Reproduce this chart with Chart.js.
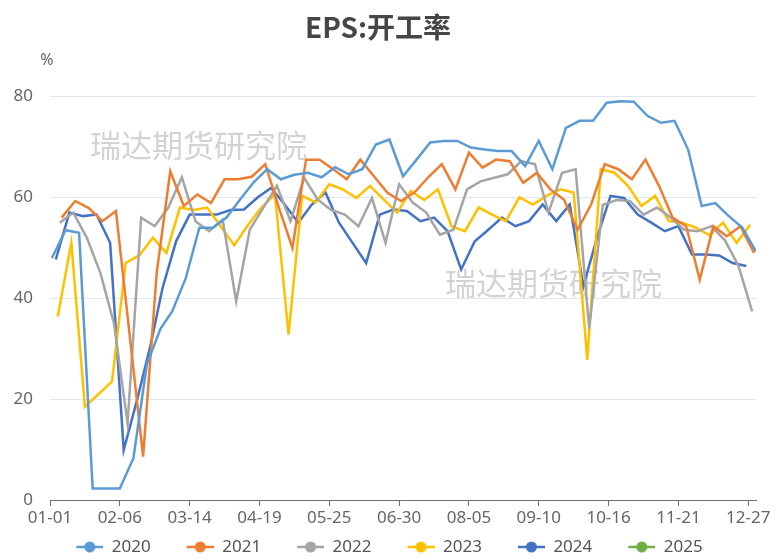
<!DOCTYPE html>
<html>
<head>
<meta charset="utf-8">
<script src="https://cdn.jsdelivr.net/npm/chart.js@4.4.1/dist/chart.umd.min.js"></script>
<style>
  html, body { margin: 0; padding: 0; background: #fff; }
  #wrap { width: 779px; height: 559px; }
</style>
</head>
<body>
<div id="wrap"><canvas id="eps"></canvas></div>
<script>
'use strict';
// weekly EPS operating rate (%), one value per Thursday from the first date
const years = ['2020', '2021', '2022', '2023', '2024', '2025'];
const firstDates = ['2020-01-02', '2021-01-07', '2022-01-06', '2023-01-05', '2024-01-04', '2025-01-02'];
const v2020 = [48, 53.5, 53, 2.3, 2.3, 2.3, 8.3, 27, 34, 37.4, 44, 54, 54, 56, 59.6, 63, 65.6, 63.6, 64.5, 64.9,
  64, 66, 64.6, 65.6, 70.5, 71.5, 64.2, 67.5, 70.9, 71.2, 71.2, 69.9, 69.5, 69.2, 69.2, 66.2, 71.2, 65.6, 73.8, 75.2,
  75.2, 78.8, 79.1, 79, 76.2, 74.8, 75.2, 69.5, 58.3, 58.9, 56.3, 54, 49.3];
const v2021 = [56, 59.3, 57.9, 55.3, 57.3, 33, 8.6, 45, 65.2, 58.3, 60.6, 58.9, 63.6, 63.6, 64.1, 66.6, 58, 50, 67.5, 67.5,
  65.6, 63.6, 67.5, 64.2, 60.9, 59.3, 61, 64, 66.6, 61.6, 68.9, 65.9, 67.5, 67.2, 62.9, 64.9, 61.6, 59.6, 53.6, 58.6,
  66.6, 65.6, 63.6, 67.5, 62.3, 56, 54.3, 43.7, 54.3, 52.3, 54.3, 49];
const v2022 = [55, 57, 52, 45, 35, 15.2, 56, 54.3, 58, 64, 55.3, 53.3, 55.6, 39.4, 53.6, 58, 62.3, 55.3, 63.9, 59.6,
  57.5, 56.6, 54.3, 59.9, 51, 62.6, 59, 57, 52.6, 53.6, 61.6, 63.2, 63.9, 64.6, 67.2, 66.6, 57, 64.9, 65.6, 34,
  58.5, 59.5, 59.3, 56.6, 58, 56, 53.6, 53.3, 54.3, 51.5, 46.4, 37.4];
const v2023 = [36.4, 51, 18.5, 21, 23.5, 47, 48.5, 52, 49, 58, 57.5, 58, 54.3, 50.5, 54.5, 58, 60.6, 32.8, 60.3, 59,
  62.6, 61.6, 59.9, 62.3, 59.6, 57, 61.3, 59.5, 61.6, 54.3, 53.3, 58, 56.6, 55.3, 60, 58.6, 60.3, 61.6, 61, 27.8,
  65.6, 64.9, 62.3, 58.3, 60.3, 55.3, 55, 54, 52.5, 55, 51, 54.6];
const v2024 = [47.7, 57, 56.3, 56.6, 51, 9.9, 20, 31, 42, 51.3, 56.6, 56.6, 56.6, 57.5, 57.6, 60, 61.9, 58.6, 55, 58.6,
  61, 55, 51, 47, 56.6, 57.6, 57.3, 55.3, 56, 53.3, 45.7, 51.3, 53.6, 56, 54.3, 55.3, 58.6, 55.3, 58.6, 42.4,
  52, 60.3, 59.9, 56.6, 55, 53.3, 54.3, 48.7, 48.7, 48.5, 47, 46.4];
const v2025 = [];
const seriesValues = [v2020, v2021, v2022, v2023, v2024, v2025];
const colors = ['#5B9BD5', '#ED7D31', '#A5A5A5', '#FFC000', '#4472C4', '#70AD47'];

const MONTH_START = [0, 31, 59, 90, 120, 151, 181, 212, 243, 273, 304, 334];
const pad = n => String(n).padStart(2, '0');

// position on a 365-day MM-DD axis
function dayIndex(d) {
  const m = d.getUTCMonth();
  return MONTH_START[m] + Math.min(d.getUTCDate(), m === 1 ? 28 : 31) - 1;
}
function dayLabel(i) {
  let m = 11;
  while (MONTH_START[m] > i) m--;
  return pad(m + 1) + '-' + pad(i - MONTH_START[m] + 1);
}
function weekly(first, values) {
  const t0 = Date.parse(first + 'T00:00:00Z');
  return values.map((y, i) => ({ x: dayIndex(new Date(t0 + i * 7 * 86400000)), y }));
}
function legendIcon(color) {
  const c = document.createElement('canvas');
  c.width = 50;
  c.height = 14;
  const g = c.getContext('2d');
  g.strokeStyle = color;
  g.lineWidth = 2.5;
  g.beginPath();
  g.moveTo(23, 7);
  g.lineTo(50, 7);
  g.stroke();
  g.fillStyle = color;
  g.beginPath();
  g.arc(36.5, 7, 5.5, 0, Math.PI * 2);
  g.fill();
  return c;
}
const icons = colors.map(legendIcon);

const watermark = {
  id: 'watermark',
  beforeDatasetsDraw(chart) {
    const ctx = chart.ctx;
    ctx.save();
    ctx.font = '31px "Noto Sans CJK SC"';
    ctx.fillStyle = 'rgba(150,150,150,0.42)';
    ctx.textBaseline = 'middle';
    ctx.fillText('瑞达期货研究院', 90, 145);
    ctx.fillText('瑞达期货研究院', 445, 283);
    ctx.restore();
  },
  afterDraw(chart) {
    const ctx = chart.ctx;
    ctx.save();
    ctx.font = '16px "Noto Sans"';
    ctx.fillStyle = '#666';
    ctx.textAlign = 'center';
    ctx.textBaseline = 'middle';
    ctx.fillText('%', 47, 60);
    ctx.restore();
  },
};

const ctx = document.getElementById('eps').getContext('2d');
const epsChart = new Chart(ctx, {
  type: 'line',
  data: {
    datasets: years.map((year, i) => ({
      label: year,
      data: weekly(firstDates[i], seriesValues[i]),
      borderColor: colors[i],
      backgroundColor: colors[i],
      borderWidth: 2.5,
      pointRadius: 0,
      tension: 0,
    })),
  },
  options: {
    responsive: true,
    maintainAspectRatio: false,
    animation: false,
    layout: { padding: { left: 0, right: 23, top: 0, bottom: -6.5 } },
    scales: {
      x: {
        type: 'linear',
        min: 0,
        max: 364,
        afterFit(s) { s.height = 25.5; },
        ticks: {
          stepSize: 36,
          includeBounds: false,
          autoSkip: false,
          maxRotation: 0,
          padding: 2,
          color: '#666',
          font: { family: 'Noto Sans', size: 17 },
          callback: v => dayLabel(v),
        },
        grid: { drawOnChartArea: false, tickLength: 6, color: '#6E7079' },
        border: { color: '#6E7079', width: 1 },
      },
      y: {
        min: 0,
        max: 80,
        afterFit(s) { s.width = 50; },
        ticks: {
          stepSize: 20,
          padding: 17,
          color: '#666',
          font: { family: 'Noto Sans', size: 17 },
        },
        grid: { color: '#E0E6F1', drawTicks: false },
        border: { display: false },
      },
    },
    plugins: {
      title: {
        display: true,
        text: 'EPS:开工率',
        color: '#464646',
        font: { family: 'Noto Sans CJK SC', size: 28, weight: 'bold' },
        padding: { top: 11, bottom: 52 },
      },
      legend: {
        position: 'bottom',
        labels: {
          usePointStyle: true,
          pointStyleWidth: 50,
          padding: 13,
          color: '#555',
          font: { family: 'Noto Sans', size: 17 },
          generateLabels: chart => chart.data.datasets.map((ds, i) => ({
            text: ds.label,
            fillStyle: ds.borderColor,
            strokeStyle: ds.borderColor,
            lineWidth: 0,
            pointStyle: icons[i],
            fontColor: '#555',
            hidden: !chart.isDatasetVisible(i),
            datasetIndex: i,
          })),
        },
      },
      tooltip: { enabled: false },
    },
  },
  plugins: [watermark],
});
</script>
</body>
</html>
